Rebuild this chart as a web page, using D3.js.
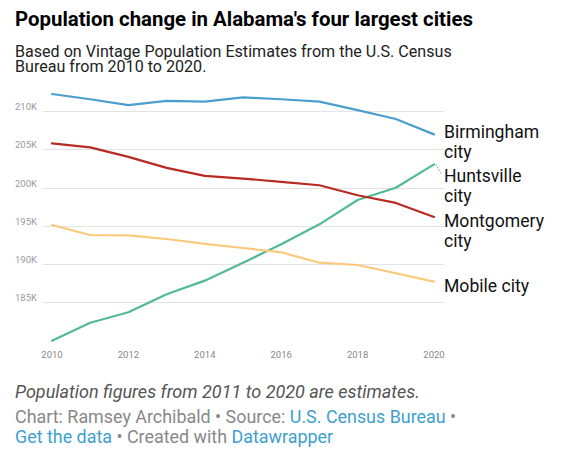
<!DOCTYPE html>
<html>
<head>
<meta charset="utf-8">
<script src="https://cdn.jsdelivr.net/npm/d3@7"></script>
<style>
  body { margin: 0; background: #fff; }
  svg { display: block; font-family: Roboto, "Noto Sans", sans-serif; }
</style>
</head>
<body>
<div class="c_chart"></div>
<script>
/* DATA
------------------------------------------------------ */
const years = [2010, 2011, 2012, 2013, 2014, 2015, 2016, 2017, 2018, 2019, 2020];

// thousands of residents
const birmingham = [212.25, 211.56, 210.80, 211.34, 211.25, 211.80, 211.56, 211.25, 210.15, 208.98, 206.97];
const huntsville = [179.98, 182.33, 183.69, 186.05, 187.83, 190.18, 192.58, 195.20, 198.38, 199.99, 203.05];
const montgomery = [205.79, 205.26, 204.03, 202.59, 201.54, 201.19, 200.75, 200.31, 199.00, 198.00, 196.16];
const mobile = [195.11, 193.80, 193.76, 193.28, 192.63, 192.10, 191.54, 190.18, 189.88, 188.80, 187.70];

const yTicks = [185, 190, 195, 200, 205, 210];
const xTicks = [2010, 2012, 2014, 2016, 2018, 2020];

const cities = [
  {name: ["Birmingham", "city"], values: birmingham, color: "#4a9fce"},
  {name: ["Huntsville", "city"], values: huntsville, color: "#52b998"},
  {name: ["Montgomery", "city"], values: montgomery, color: "#b82b22"},
  {name: ["Mobile city"], values: mobile, color: "#fbc97a"}
];
// label baseline of first line for each series (label stacking)
const labelY = [137.7, 181.7, 227.3, 291.7];

/* SVG
------------------------------------------------------ */
const width = 566;
const height = 458;

let svg = d3.select(".c_chart")
  .append("svg")
  .attr("width", width)
  .attr("height", height);

// title + subtitle
svg.append("text")
  .attr("x", 15).attr("y", 26)
  .attr("font-size", 20.4).attr("font-weight", 700).attr("fill", "#000")
  .text("Population change in Alabama's four largest cities");

const sub = svg.append("text")
  .attr("font-size", 16.1).attr("fill", "#222");
sub.append("tspan").attr("x", 15).attr("y", 57)
  .text("Based on Vintage Population Estimates from the U.S. Census");
sub.append("tspan").attr("x", 15).attr("y", 71.5)
  .text("Bureau from 2010 to 2020.");

/* SCALES
------------------------------------------------------ */
const x = d3.scaleLinear().domain([2010, 2020]).range([52, 434]);
const y = d3.scaleLinear().domain([180, 210]).range([340.5, 111.2]);

// gridlines
svg.append("g")
  .selectAll("line")
  .data(yTicks)
  .enter()
  .append("line")
  .attr("x1", 43).attr("x2", 444)
  .attr("y1", d => Math.round(y(d)) + 0.5)
  .attr("y2", d => Math.round(y(d)) + 0.5)
  .attr("stroke", "#e3e3e3").attr("stroke-width", 1);

// y axis labels
svg.append("g")
  .selectAll("text")
  .data(yTicks)
  .enter()
  .append("text")
  .attr("x", 37).attr("y", d => y(d) - 1)
  .attr("text-anchor", "end")
  .attr("font-size", 9.5).attr("fill", "#9a9a9a")
  .text(d => d + "K");

// x axis labels
svg.append("g")
  .selectAll("text")
  .data(xTicks)
  .enter()
  .append("text")
  .attr("x", d => x(d)).attr("y", 357.5)
  .attr("text-anchor", "middle")
  .attr("font-size", 9.5).attr("fill", "#888")
  .text(d => d);

/* LINES
------------------------------------------------------ */
const line = d3.line()
  .x((d, i) => x(years[i]))
  .y(d => y(d));

svg.append("g")
  .selectAll("path")
  .data(cities)
  .enter()
  .append("path")
  .attr("d", d => line(d.values))
  .attr("fill", "none")
  .attr("stroke", d => d.color)
  .attr("stroke-width", 2.2)
  .attr("stroke-linejoin", "round")
  .attr("stroke-linecap", "round");

// dotted connectors from line end to label
cities.forEach(function(c, i) {
  const ey = y(c.values[c.values.length - 1]);
  const ly = labelY[i] - 6;
  if (Math.abs(ey - ly) > 6) {
    svg.append("line")
      .attr("x1", x(2020) + 2).attr("y1", ey)
      .attr("x2", 441).attr("y2", ly + (ey > ly ? 2 : -2))
      .attr("stroke", c.color).attr("stroke-width", 1)
      .attr("stroke-dasharray", "1.5,1.5");
  }
});

// labels
const lab = svg.append("g")
  .selectAll("text")
  .data(cities)
  .enter()
  .append("text")
  .attr("font-size", 17.6).attr("fill", "#111");

lab.each(function(d, i) {
  d3.select(this).selectAll("tspan")
    .data(d.name)
    .enter()
    .append("tspan")
    .attr("x", 444)
    .attr("y", (t, j) => labelY[i] + j * 20)
    .text(t => t);
});

/* FOOTER
------------------------------------------------------ */
svg.append("text")
  .attr("x", 15).attr("y", 397.7)
  .attr("font-size", 18).attr("font-style", "italic").attr("fill", "#555")
  .text("Population figures from 2011 to 2020 are estimates.");

const f1 = svg.append("text")
  .attr("x", 15).attr("y", 423.3)
  .attr("font-size", 17.9).attr("fill", "#888");
f1.append("tspan").text("Chart: Ramsey Archibald • Source: ");
f1.append("tspan").attr("fill", "#3e9fce").text("U.S. Census Bureau");
f1.append("tspan").text(" •");

const f2 = svg.append("text")
  .attr("x", 15).attr("y", 442.7)
  .attr("font-size", 17.9).attr("fill", "#888");
f2.append("tspan").attr("fill", "#3e9fce").text("Get the data");
f2.append("tspan").text(" • Created with ");
f2.append("tspan").attr("fill", "#3e9fce").text("Datawrapper");
</script>
</body>
</html>
